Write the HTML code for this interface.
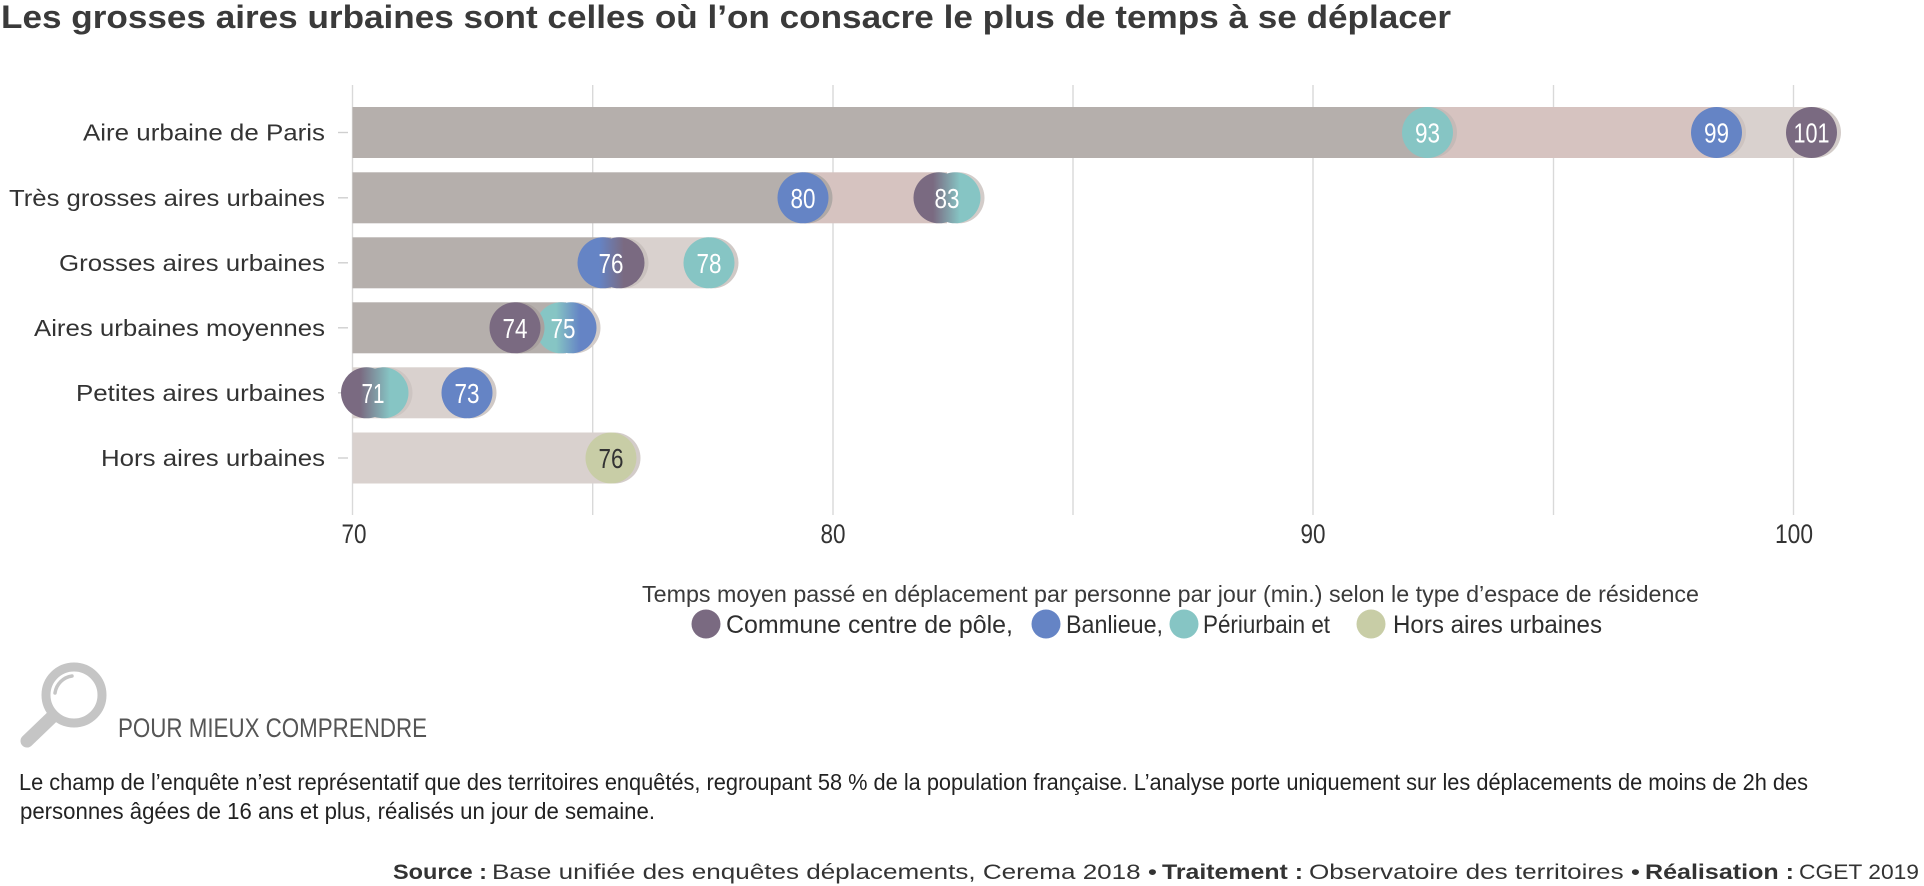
<!DOCTYPE html>
<html><head><meta charset="utf-8"><style>
html,body{margin:0;padding:0;background:#fff;}
svg{display:block;}
text{font-family:"Liberation Sans",Arial,sans-serif;}
</style></head><body>
<svg width="1924" height="886" viewBox="0 0 1924 886" xmlns="http://www.w3.org/2000/svg">
<defs>
<linearGradient id="g83" gradientUnits="userSpaceOnUse" x1="933" y1="0" x2="960" y2="0"><stop offset="0" stop-color="#7a6a81"/><stop offset="1" stop-color="#86c5c4"/></linearGradient>
<linearGradient id="g76" gradientUnits="userSpaceOnUse" x1="599" y1="0" x2="624" y2="0"><stop offset="0" stop-color="#6584c5"/><stop offset="1" stop-color="#7a6a81"/></linearGradient>
<linearGradient id="g75" gradientUnits="userSpaceOnUse" x1="556" y1="0" x2="580" y2="0"><stop offset="0" stop-color="#86c5c4"/><stop offset="1" stop-color="#6584c5"/></linearGradient>
<linearGradient id="g71" gradientUnits="userSpaceOnUse" x1="360" y1="0" x2="390" y2="0"><stop offset="0" stop-color="#7a6a81"/><stop offset="1" stop-color="#86c5c4"/></linearGradient>
</defs>

<!-- Title -->
<text x="1" y="28" font-size="32" font-weight="bold" fill="#3a3a3a" textLength="1450" lengthAdjust="spacingAndGlyphs">Les grosses aires urbaines sont celles où l’on consacre le plus de temps à se déplacer</text>

<!-- Gridlines -->
<g stroke="#d9d9d9" stroke-width="1.4">
<line x1="352.5" y1="85" x2="352.5" y2="515"/>
<line x1="592.7" y1="85" x2="592.7" y2="515"/>
<line x1="833" y1="85" x2="833" y2="515"/>
<line x1="1073" y1="85" x2="1073" y2="515"/>
<line x1="1313" y1="85" x2="1313" y2="515"/>
<line x1="1553.5" y1="85" x2="1553.5" y2="515"/>
<line x1="1793.5" y1="85" x2="1793.5" y2="515"/>
</g>

<!-- Category ticks -->
<g stroke="#cfcfcf" stroke-width="1.4">
<line x1="338" y1="132.5" x2="348" y2="132.5"/>
<line x1="338" y1="197.8" x2="348" y2="197.8"/>
<line x1="338" y1="262.8" x2="348" y2="262.8"/>
<line x1="338" y1="327.8" x2="348" y2="327.8"/>
<line x1="338" y1="392.8" x2="348" y2="392.8"/>
<line x1="338" y1="458" x2="348" y2="458"/>
</g>

<!-- Category labels -->
<g font-size="23" fill="#333" text-anchor="end">
<text x="325" y="140.5" textLength="242" lengthAdjust="spacingAndGlyphs">Aire urbaine de Paris</text>
<text x="325" y="205.8" textLength="316" lengthAdjust="spacingAndGlyphs">Très grosses aires urbaines</text>
<text x="325" y="270.8" textLength="266" lengthAdjust="spacingAndGlyphs">Grosses aires urbaines</text>
<text x="325" y="335.8" textLength="291" lengthAdjust="spacingAndGlyphs">Aires urbaines moyennes</text>
<text x="325" y="400.8" textLength="249" lengthAdjust="spacingAndGlyphs">Petites aires urbaines</text>
<text x="325" y="466" textLength="224" lengthAdjust="spacingAndGlyphs">Hors aires urbaines</text>
</g>

<!-- Row 1 Paris -->
<rect x="352.5" y="107" width="1075" height="51" fill="#b5afac"/>
<rect x="1427.5" y="107" width="289" height="51" fill="#d6c3c0"/>
<rect x="1716.5" y="107" width="95" height="51" fill="#d9d1ce"/>
<circle cx="1431.5" cy="132.5" r="25.5" fill="#c5bab7"/>
<circle cx="1427.5" cy="132.5" r="25.5" fill="#86c5c4"/>
<circle cx="1720.5" cy="132.5" r="25.5" fill="#cdc3c0"/>
<circle cx="1716.5" cy="132.5" r="25.5" fill="#6584c5"/>
<circle cx="1815.5" cy="132.5" r="25.5" fill="#d3ccc9"/>
<circle cx="1811.5" cy="132.5" r="25.5" fill="#7a6a81"/>

<!-- Row 2 Tres grosses -->
<rect x="352.5" y="172.3" width="450.5" height="51" fill="#b5afac"/>
<rect x="803" y="172.3" width="144" height="51" fill="#d6c3c0"/>
<circle cx="807" cy="197.8" r="25.5" fill="#b0a9a6"/>
<circle cx="803" cy="197.8" r="25.5" fill="#6584c5"/>
<circle cx="959" cy="197.8" r="25.5" fill="#d3ccc9"/>
<circle cx="939" cy="197.8" r="25.5" fill="url(#g83)"/>
<circle cx="955" cy="197.8" r="25.5" fill="url(#g83)"/>

<!-- Row 3 Grosses -->
<rect x="352.5" y="237.3" width="258.5" height="51" fill="#b5afac"/>
<rect x="611" y="237.3" width="98" height="51" fill="#d9d1ce"/>
<circle cx="623" cy="262.8" r="25.5" fill="#c9c1be"/>
<circle cx="603" cy="262.8" r="25.5" fill="url(#g76)"/>
<circle cx="619" cy="262.8" r="25.5" fill="url(#g76)"/>
<circle cx="713" cy="262.8" r="25.5" fill="#d0c9c6"/>
<circle cx="709" cy="262.8" r="25.5" fill="#86c5c4"/>

<!-- Row 4 Moyennes -->
<rect x="352.5" y="302.3" width="213.5" height="51" fill="#b5afac"/>
<circle cx="575" cy="327.8" r="25.5" fill="#d3ccc9"/>
<circle cx="561" cy="327.8" r="25.5" fill="url(#g75)"/>
<circle cx="571" cy="327.8" r="25.5" fill="url(#g75)"/>
<circle cx="519" cy="327.8" r="25.5" fill="#a9a19f"/>
<circle cx="515" cy="327.8" r="25.5" fill="#7a6a81"/>

<!-- Row 5 Petites -->
<rect x="352.5" y="367.3" width="114.5" height="51" fill="#d9d1ce"/>
<circle cx="387" cy="392.8" r="25.5" fill="#cdc5c2"/>
<circle cx="366.5" cy="392.8" r="25.5" fill="url(#g71)"/>
<circle cx="383" cy="392.8" r="25.5" fill="url(#g71)"/>
<circle cx="471" cy="392.8" r="25.5" fill="#d0c9c6"/>
<circle cx="467" cy="392.8" r="25.5" fill="#6584c5"/>

<!-- Row 6 Hors -->
<rect x="352.5" y="432.5" width="258.5" height="51" fill="#d9d1ce"/>
<circle cx="615" cy="458" r="25.5" fill="#d3ccc9"/>
<circle cx="611" cy="458" r="25.5" fill="#c8cda6"/>

<!-- Values -->
<g font-size="28" fill="#fff" text-anchor="middle">
<text x="1427.5" y="142.5" textLength="25" lengthAdjust="spacingAndGlyphs">93</text>
<text x="1716.5" y="142.5" textLength="25" lengthAdjust="spacingAndGlyphs">99</text>
<text x="1811.5" y="142.5" textLength="36" lengthAdjust="spacingAndGlyphs">101</text>
<text x="803" y="207.8" textLength="25" lengthAdjust="spacingAndGlyphs">80</text>
<text x="947" y="207.8" textLength="25" lengthAdjust="spacingAndGlyphs">83</text>
<text x="611" y="272.8" textLength="25" lengthAdjust="spacingAndGlyphs">76</text>
<text x="709" y="272.8" textLength="25" lengthAdjust="spacingAndGlyphs">78</text>
<text x="515" y="337.8" textLength="25" lengthAdjust="spacingAndGlyphs">74</text>
<text x="563" y="337.8" textLength="25" lengthAdjust="spacingAndGlyphs">75</text>
<text x="373" y="402.8" textLength="23" lengthAdjust="spacingAndGlyphs">71</text>
<text x="467" y="402.8" textLength="25" lengthAdjust="spacingAndGlyphs">73</text>
<text x="611" y="468" textLength="25" lengthAdjust="spacingAndGlyphs" fill="#333">76</text>
</g>

<!-- Axis labels -->
<g font-size="27" fill="#333" text-anchor="middle">
<text x="354" y="543" textLength="25" lengthAdjust="spacingAndGlyphs">70</text>
<text x="833" y="543" textLength="25" lengthAdjust="spacingAndGlyphs">80</text>
<text x="1313" y="543" textLength="25" lengthAdjust="spacingAndGlyphs">90</text>
<text x="1794" y="543" textLength="38" lengthAdjust="spacingAndGlyphs">100</text>
</g>

<!-- Legend -->
<text x="642" y="602" font-size="23" fill="#3a3a3a" textLength="1057" lengthAdjust="spacingAndGlyphs">Temps moyen passé en déplacement par personne par jour (min.) selon le type d’espace de résidence</text>
<circle cx="706" cy="624" r="14.5" fill="#7a6a81"/>
<circle cx="1046" cy="624" r="14.5" fill="#6584c5"/>
<circle cx="1184" cy="624" r="14.5" fill="#86c5c4"/>
<circle cx="1371" cy="624" r="14.5" fill="#c8cda6"/>
<g font-size="25" fill="#2e2e2e">
<text x="726" y="633" textLength="287" lengthAdjust="spacingAndGlyphs">Commune centre de pôle,</text>
<text x="1066" y="633" textLength="97" lengthAdjust="spacingAndGlyphs">Banlieue,</text>
<text x="1203" y="633" textLength="127" lengthAdjust="spacingAndGlyphs">Périurbain et</text>
<text x="1393" y="633" textLength="209" lengthAdjust="spacingAndGlyphs">Hors aires urbaines</text>
</g>

<!-- Magnifier -->
<g stroke="#c5c5c5" fill="none" stroke-linecap="round">
<line x1="52" y1="717" x2="27" y2="741" stroke-width="13"/>
<circle cx="74" cy="695" r="28" stroke-width="9" fill="#fff"/>
<path d="M55,693 A20,20 0 0 1 72,676" stroke-width="3.5"/>
</g>
<text x="118" y="737" font-size="27" fill="#555" textLength="309" lengthAdjust="spacingAndGlyphs">POUR MIEUX COMPRENDRE</text>

<!-- Paragraph -->
<g font-size="23" fill="#222">
<text x="19" y="790" textLength="1789" lengthAdjust="spacingAndGlyphs">Le champ de l’enquête n’est représentatif que des territoires enquêtés, regroupant 58 % de la population française. L’analyse porte uniquement sur les déplacements de moins de 2h des</text>
<text x="20" y="819" textLength="635" lengthAdjust="spacingAndGlyphs">personnes âgées de 16 ans et plus, réalisés un jour de semaine.</text>
</g>

<!-- Source -->
<g font-size="21" fill="#333">
<text x="393" y="879" font-weight="bold" textLength="94" lengthAdjust="spacingAndGlyphs">Source :</text>
<text x="492" y="879" textLength="665" lengthAdjust="spacingAndGlyphs">Base unifiée des enquêtes déplacements, Cerema 2018 •</text>
<text x="1162" y="879" font-weight="bold" textLength="141" lengthAdjust="spacingAndGlyphs">Traitement :</text>
<text x="1309" y="879" textLength="331" lengthAdjust="spacingAndGlyphs">Observatoire des territoires •</text>
<text x="1645" y="879" font-weight="bold" textLength="149" lengthAdjust="spacingAndGlyphs">Réalisation :</text>
<text x="1799" y="879" textLength="120" lengthAdjust="spacingAndGlyphs">CGET 2019</text>
</g>
</svg>
</body></html>
